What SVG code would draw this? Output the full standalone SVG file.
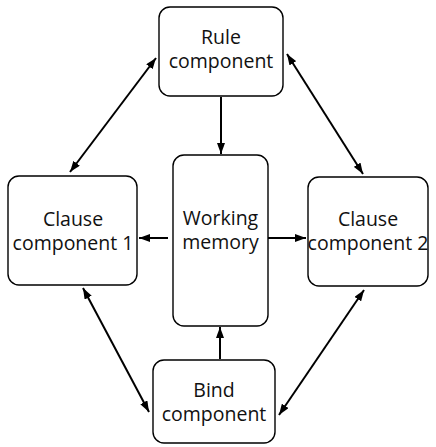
<svg xmlns="http://www.w3.org/2000/svg" width="436" height="447" viewBox="0 0 436 447">
<defs>
<style>
.box{fill:#fff;stroke:#000;stroke-width:1.4}
.lbl{font-family:"Open Sans","Noto Sans",sans-serif;font-size:19.5px;fill:#111;text-anchor:middle}
.con{stroke:#000;stroke-width:2;fill:none;marker-end:url(#ah)}
.bi{marker-start:url(#ahs)}
</style>
<marker id="ah" viewBox="0 0 11 8" refX="11" refY="4" markerWidth="11" markerHeight="8" markerUnits="userSpaceOnUse" orient="auto">
<path d="M0,0 L11,4 L0,8 z" fill="#000"/>
</marker>
<marker id="ahs" viewBox="0 0 11 8" refX="0" refY="4" markerWidth="11" markerHeight="8" markerUnits="userSpaceOnUse" orient="auto">
<path d="M11,0 L0,4 L11,8 z" fill="#000"/>
</marker>
</defs>
<g id="rule">
<rect class="box" x="159" y="7" width="124" height="89" rx="11"/>
<text class="lbl" x="221" y="44">Rule</text>
<text class="lbl" x="221" y="68">component</text>
</g>
<g id="clause1">
<rect class="box" x="8" y="176" width="129" height="109" rx="11"/>
<text class="lbl" x="73" y="226">Clause</text>
<text class="lbl" x="73" y="250">component 1</text>
</g>
<g id="wm">
<rect class="box" x="173" y="155" width="95" height="171" rx="11"/>
<text class="lbl" x="220.5" y="225">Working</text>
<text class="lbl" x="220.5" y="249">memory</text>
</g>
<g id="clause2">
<rect class="box" x="308" y="177" width="120" height="109" rx="11"/>
<text class="lbl" x="368" y="226">Clause</text>
<text class="lbl" x="368" y="250">component 2</text>
</g>
<g id="bind">
<rect class="box" x="153" y="360" width="122" height="83" rx="11"/>
<text class="lbl" x="214" y="397">Bind</text>
<text class="lbl" x="214" y="421">component</text>
</g>
<g id="connectors">
<line class="con" x1="221" y1="97" x2="221" y2="154"/>
<line class="con" x1="220" y1="359" x2="220" y2="327"/>
<line class="con" x1="168" y1="238" x2="139" y2="238"/>
<line class="con" x1="268" y1="238" x2="306" y2="238"/>
<line class="con bi" x1="70" y1="172" x2="156" y2="58"/>
<line class="con bi" x1="363" y1="174" x2="287" y2="54"/>
<line class="con bi" x1="149" y1="412" x2="83" y2="288"/>
<line class="con bi" x1="279" y1="415" x2="364" y2="290"/>
</g>
</svg>
